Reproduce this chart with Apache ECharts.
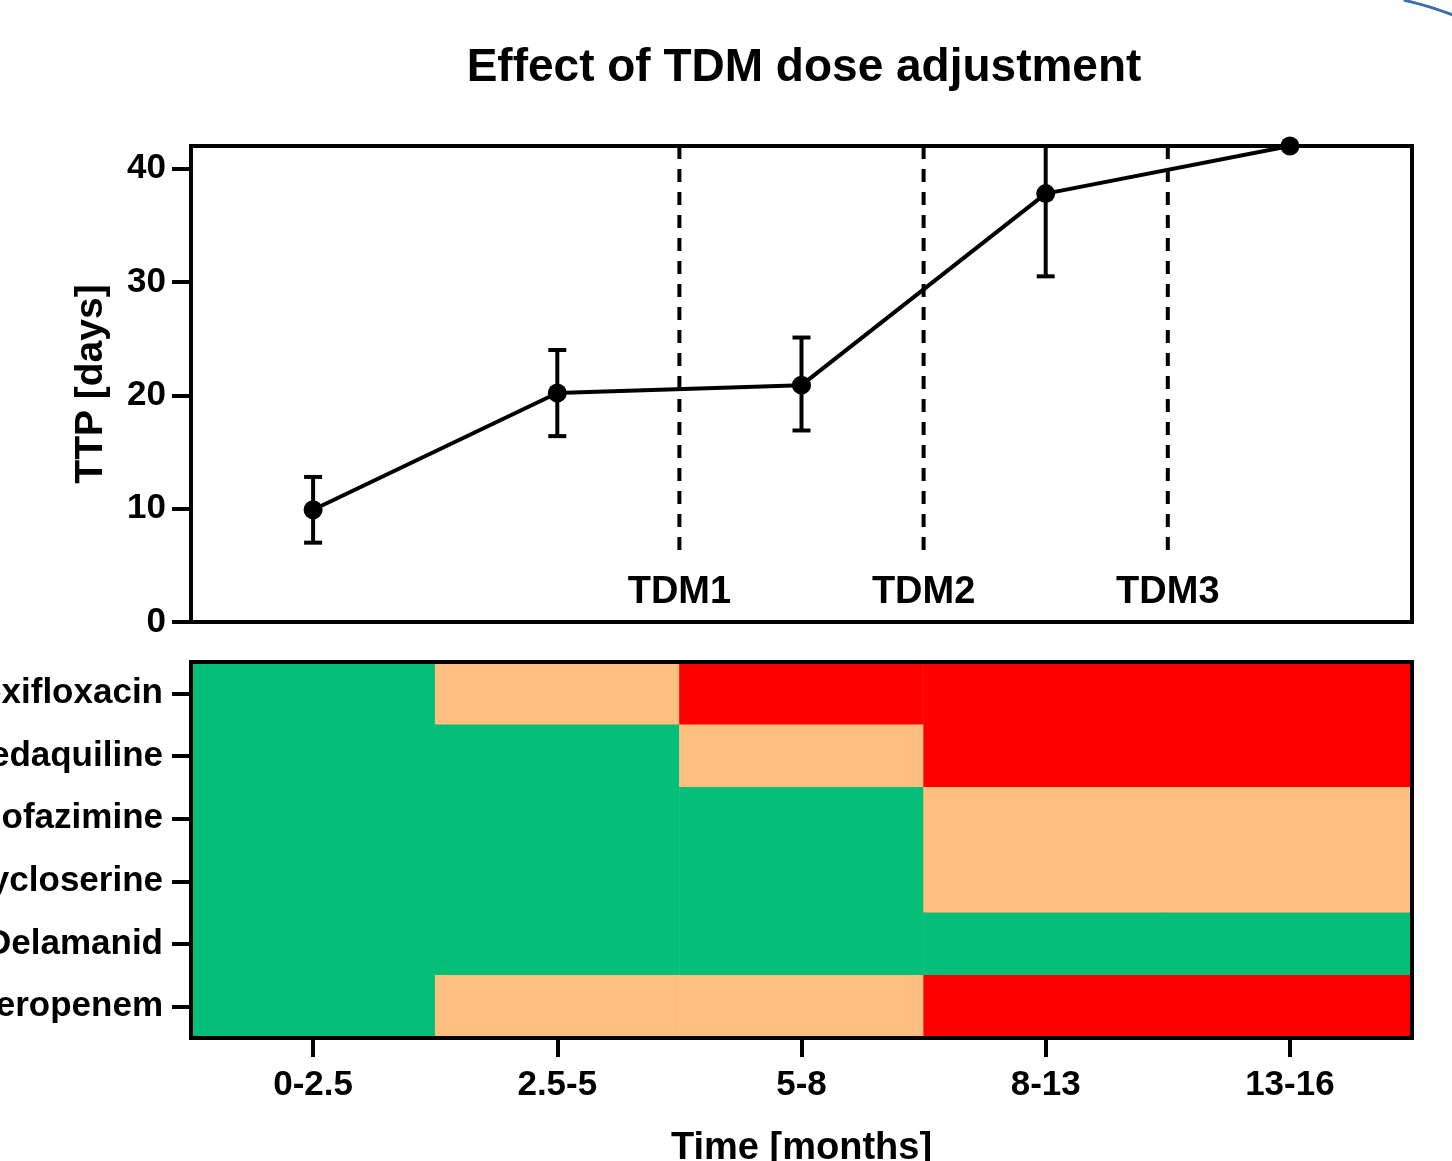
<!DOCTYPE html>
<html>
<head>
<meta charset="utf-8">
<title>Effect of TDM dose adjustment</title>
<script src="https://cdn.jsdelivr.net/npm/echarts@6/dist/echarts.min.js"></script>
<style>
  html, body { margin: 0; padding: 0; background: #fff; }
  #chart { width: 1452px; height: 1161px; }
</style>
</head>
<body>
<div id="chart"></div>
<script>
// Time windows (months)
const periods = ["0-2.5", "2.5-5", "5-8", "8-13", "13-16"];

// Time to positivity (days): mean with lower / upper error bounds
const ttpMean = [9.9, 20.2, 20.9, 37.8, 42.0];
const ttpLow  = [7.0, 16.4, 16.9, 30.5, 42.0];
const ttpHigh = [12.8, 24.0, 25.1, 45.1, 42.0];

// TDM dose adjustments, placed after the given period index
const tdmNames = ["TDM1", "TDM2", "TDM3"];
const tdmAfter = [1, 2, 3];

// Drug exposure status per period: 0 = adequate, 1 = borderline, 2 = low
const drugs = ["Moxifloxacin", "Bedaquiline", "Clofazimine", "Cycloserine", "Delamanid", "Meropenem"];
const moxifloxacin = [0, 1, 2, 2, 2];
const bedaquiline  = [0, 0, 1, 2, 2];
const clofazimine  = [0, 0, 0, 1, 1];
const cycloserine  = [0, 0, 0, 1, 1];
const delamanid    = [0, 0, 0, 0, 0];
const meropenem    = [0, 1, 1, 2, 2];

const yTicks = [0, 10, 20, 30, 40];

const FONT = "'Liberation Sans', Arial, Helvetica, sans-serif";

const statusRows = [moxifloxacin, bedaquiline, clofazimine, cycloserine, delamanid, meropenem];
const heatData = [];
statusRows.forEach((row, r) => row.forEach((v, c) => heatData.push([c, r, v])));

const errData = periods.map((p, i) => [i, ttpLow[i], ttpHigh[i]]);
const tdmData = tdmNames.map((n, i) => [tdmAfter[i], n]);

const chart = echarts.init(document.getElementById('chart'), null, { renderer: 'canvas' });

const TICK_LEN = 19;

const option = {
  backgroundColor: '#ffffff',
  animation: false,
  title: {
    text: 'Effect of TDM dose adjustment',
    left: 799, top: 40, textAlign: 'center',
    textStyle: { fontFamily: FONT, fontWeight: 'bold', fontSize: 46, color: '#000' }
  },
  grid: [
    { left: 191, top: 146, width: 1221, height: 476, show: true, z: 5,
      outerBoundsMode: 'none', containLabel: false,
      backgroundColor: 'transparent', borderColor: '#000', borderWidth: 4 },
    { left: 191, top: 662, width: 1221, height: 376, show: true, z: 5,
      outerBoundsMode: 'none', containLabel: false,
      backgroundColor: 'transparent', borderColor: '#000', borderWidth: 4 }
  ],
  xAxis: [
    { type: 'category', gridIndex: 0, data: periods, boundaryGap: true,
      axisLine: { show: false }, axisTick: { show: false }, axisLabel: { show: false },
      splitLine: { show: false } },
    { type: 'category', gridIndex: 1, data: periods, boundaryGap: true,
      name: 'Time [months]', nameLocation: 'middle', nameGap: 92,
      nameTextStyle: { fontFamily: FONT, fontWeight: 'bold', fontSize: 38, color: '#000' },
      axisLine: { show: true, lineStyle: { color: '#000', width: 4 } },
      axisTick: { show: true, alignWithLabel: true, length: TICK_LEN, lineStyle: { color: '#000', width: 4 } },
      axisLabel: { fontFamily: FONT, fontWeight: 'bold', fontSize: 35, color: '#000', margin: 30 },
      splitLine: { show: false } }
  ],
  yAxis: [
    { type: 'value', gridIndex: 0, min: 0, max: 42, interval: 10,
      name: 'TTP [days]', nameLocation: 'middle', nameGap: 80, nameRotate: 90,
      nameTextStyle: { fontFamily: FONT, fontWeight: 'bold', fontSize: 39, color: '#000' },
      axisLine: { show: true, lineStyle: { color: '#000', width: 4 } },
      axisTick: { show: true, length: TICK_LEN, customValues: yTicks, lineStyle: { color: '#000', width: 4 } },
      axisLabel: { fontFamily: FONT, fontWeight: 'bold', fontSize: 35, color: '#000', margin: 25,
                   customValues: yTicks },
      splitLine: { show: false } },
    { type: 'category', gridIndex: 1, data: drugs, inverse: true,
      axisLine: { show: true, lineStyle: { color: '#000', width: 4 } },
      axisTick: { show: true, alignWithLabel: true, length: TICK_LEN, lineStyle: { color: '#000', width: 4 } },
      axisLabel: { fontFamily: FONT, fontWeight: 'bold', fontSize: 35, color: '#000', margin: 28 },
      splitLine: { show: false } }
  ],
  visualMap: {
    show: false, type: 'piecewise', seriesIndex: 3, dimension: 2,
    pieces: [
      { value: 0, color: '#05bf78' },
      { value: 1, color: '#fdbf80' },
      { value: 2, color: '#ff0000' }
    ]
  },
  series: [
    // vertical dashed TDM markers with their labels
    {
      type: 'custom', xAxisIndex: 0, yAxisIndex: 0, data: tdmData, z: 1, clip: false,
      renderItem: function (params, api) {
        const idx = api.value(0);
        const x = (api.coord([idx, 0])[0] + api.coord([idx + 1, 0])[0]) / 2;
        const yTop = api.coord([idx, 42])[1];
        const yBot = api.coord([idx, 6])[1];
        const yTxt = api.coord([idx, 2.6])[1];
        return {
          type: 'group',
          children: [
            { type: 'line', shape: { x1: x, y1: yTop, x2: x, y2: yBot },
              style: { stroke: '#000', lineWidth: 4, lineDash: [13, 10] } },
            { type: 'text', x: x, y: yTxt,
              style: { text: tdmNames[params.dataIndex], fill: '#000', align: 'center',
                       verticalAlign: 'middle', font: 'bold 38px ' + FONT } }
          ]
        };
      }
    },
    // error bars
    {
      type: 'custom', xAxisIndex: 0, yAxisIndex: 0, data: errData, z: 2, clip: true,
      renderItem: function (params, api) {
        const lo = api.coord([api.value(0), api.value(1)]);
        const hi = api.coord([api.value(0), api.value(2)]);
        if (Math.abs(hi[1] - lo[1]) < 1) return null;
        const w = 9;
        const s = { stroke: '#000', lineWidth: 4 };
        return {
          type: 'group',
          children: [
            { type: 'line', shape: { x1: lo[0], y1: lo[1], x2: hi[0], y2: hi[1] }, style: s },
            { type: 'line', shape: { x1: lo[0] - w, y1: lo[1], x2: lo[0] + w, y2: lo[1] }, style: s },
            { type: 'line', shape: { x1: hi[0] - w, y1: hi[1], x2: hi[0] + w, y2: hi[1] }, style: s }
          ]
        };
      }
    },
    // mean TTP
    {
      type: 'line', xAxisIndex: 0, yAxisIndex: 0, data: ttpMean, z: 3,
      symbol: 'circle', symbolSize: 19, showAllSymbol: true, clip: false,
      itemStyle: { color: '#000' },
      lineStyle: { color: '#000', width: 4 }
    },
    // drug exposure heatmap
    {
      type: 'heatmap', xAxisIndex: 1, yAxisIndex: 1, data: heatData,
      itemStyle: { borderWidth: 0 }
    }
  ],
  graphic: [
    { type: 'arc', silent: true,
      shape: { cx: 1330, cy: 330, r: 338, startAngle: -Math.PI * 0.43, endAngle: -Math.PI * 0.3 },
      style: { stroke: '#3b6fa8', lineWidth: 3, fill: null } }
  ]
};

chart.setOption(option);
</script>
</body>
</html>
